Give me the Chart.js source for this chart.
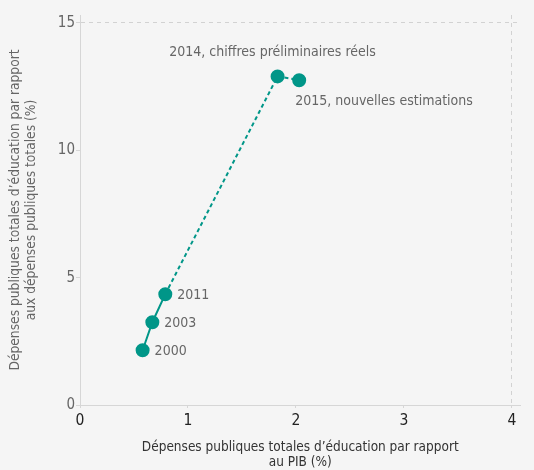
<!DOCTYPE html>
<html>
<head>
<meta charset="utf-8">
<script src="https://cdn.jsdelivr.net/npm/chart.js@4"></script>
<style>
  html, body { margin: 0; padding: 0; background: #f5f5f5; }
  #wrap { width: 534px; height: 470px; }
</style>
</head>
<body>
<div id="wrap"><canvas id="chart"></canvas></div>
<script>
const years     = ['2000', '2003', '2011', '2014', '2015'];
const gdpShare  = [0.58, 0.67, 0.79, 1.83, 2.03];
const budgetPct = [2.15, 3.25, 4.35, 12.9, 12.75];
const pointText = ['2000', '2003', '2011', '2014, chiffres préliminaires réels', '2015, nouvelles estimations'];
const xTicks    = [0, 1, 2, 3, 4];
const yTicks    = [0, 5, 10, 15];

const FONT = "'Liberation Sans Narrow', 'DejaVu Sans Condensed', sans-serif";
const TEAL = '#009688';

// labels next to each point
const pointLabels = {
    id: 'pointLabels',
    afterDatasetsDraw(chart) {
        const ctx = chart.ctx;
        const meta = chart.getDatasetMeta(0);
        ctx.save();
        ctx.font = '14px ' + FONT;
        ctx.fillStyle = '#666';
        ctx.textBaseline = 'middle';
        meta.data.forEach((pt, i) => {
            if (i === 3) {
                ctx.textAlign = 'center';
                ctx.fillText(pointText[i], pt.x - 5, pt.y - 24);
            } else if (i === 4) {
                ctx.textAlign = 'left';
                ctx.fillText(pointText[i], pt.x - 4, pt.y + 21);
            } else {
                ctx.textAlign = 'left';
                ctx.fillText(pointText[i], pt.x + 12, pt.y + 1);
            }
        });
        ctx.restore();
    }
};

const lastDash = last => c => (c.tick && c.tick.value === last) ? [4, 4] : [];
const lastGrid = last => c => (c.tick && c.tick.value === last) ? '#d2d2d2' : 'rgba(0,0,0,0)';

new Chart(document.getElementById('chart'), {
    type: 'scatter',
    data: {
        datasets: [{
            label: 'Dépenses',
            data: gdpShare.map((x, i) => ({ x: x, y: budgetPct[i] })),
            showLine: true,
            borderColor: TEAL,
            backgroundColor: TEAL,
            borderWidth: 2,
            pointRadius: 6,
            pointHoverRadius: 6,
            segment: {
                borderDash: c => c.p0DataIndex >= 2 ? [4, 3] : undefined
            }
        }]
    },
    options: {
        responsive: true,
        maintainAspectRatio: false,
        animation: false,
        layout: { padding: { top: 15, right: 13.5, left: 0, bottom: 0 } },
        plugins: { legend: { display: false }, tooltip: { enabled: false } },
        scales: {
            x: {
                type: 'linear',
                min: 0,
                max: 4.08,
                afterBuildTicks: s => { s.ticks = xTicks.map(v => ({ value: v })); },
                afterFit: s => { s.height = 65; },
                border: { color: '#d6d6d6', width: 1, dash: lastDash(4) },
                grid: {
                    color: lastGrid(4),
                    tickColor: '#d6d6d6',
                    tickLength: 3
                },
                ticks: { color: '#222', font: { family: FONT, size: 15.5 }, padding: 4 },
                title: {
                    display: true,
                    text: ['Dépenses publiques totales d’éducation par rapport', 'au PIB (%)'],
                    color: '#333',
                    font: { family: FONT, size: 13.5, lineHeight: 1.1 },
                    padding: { top: 4, bottom: 0 }
                }
            },
            y: {
                type: 'linear',
                min: 0,
                max: 15.31,
                afterBuildTicks: s => { s.ticks = yTicks.map(v => ({ value: v })); },
                afterFit: s => { s.width = 80; },
                border: { color: '#d6d6d6', width: 1, dash: lastDash(15) },
                grid: {
                    color: lastGrid(15),
                    tickColor: '#d6d6d6',
                    tickLength: 4
                },
                ticks: { color: '#666', font: { family: FONT, size: 15 }, padding: 1 },
                title: {
                    display: true,
                    text: ['Dépenses publiques totales d’éducation par rapport', 'aux dépenses publiques totales (%)'],
                    color: '#666',
                    font: { family: FONT, size: 13.7, lineHeight: 1.15 },
                    padding: { top: 8, bottom: 0 }
                }
            }
        }
    },
    plugins: [pointLabels]
});
</script>
</body>
</html>
